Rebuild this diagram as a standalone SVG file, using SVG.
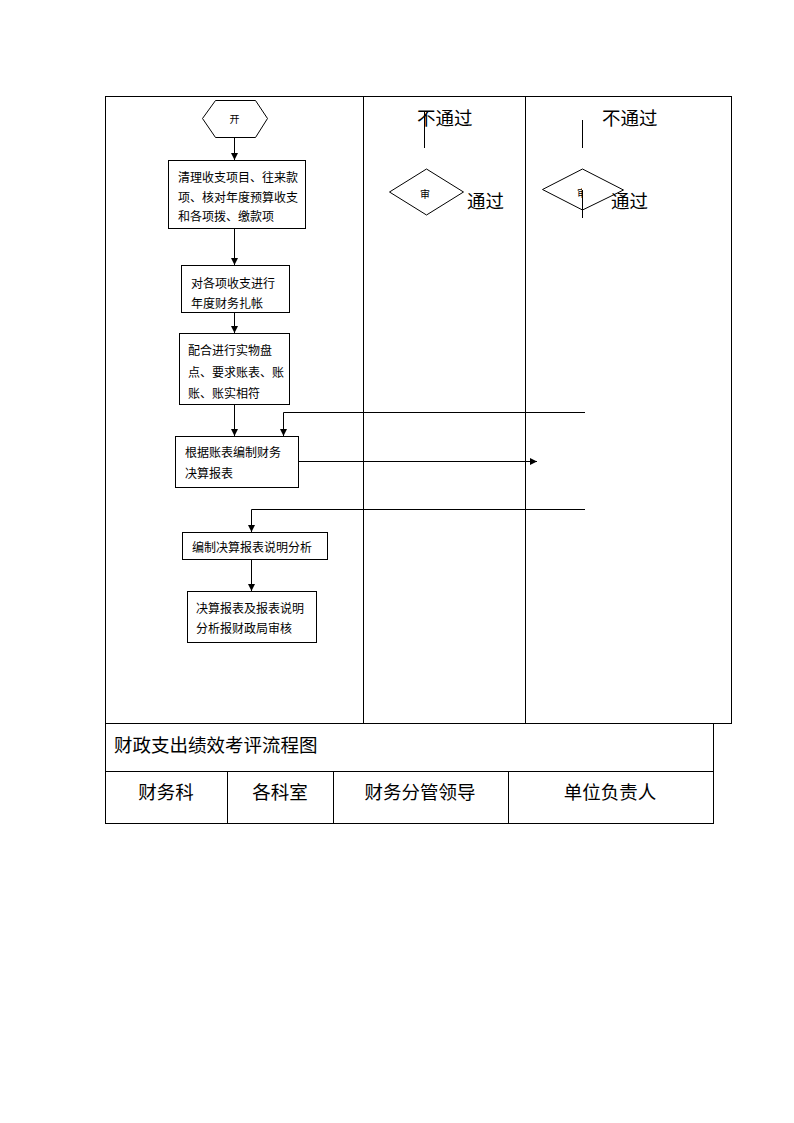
<svg xmlns="http://www.w3.org/2000/svg" width="794" height="1123" viewBox="0 0 794 1123">
<style>
.ln{stroke:#000;stroke-width:1;fill:none}
.bx{stroke:#000;stroke-width:1;fill:#fff}
.t{font-family:"Noto Sans CJK SC","Liberation Sans",sans-serif;font-size:12px;fill:#000}
.s{font-family:"Liberation Serif","Noto Sans CJK SC",serif;font-size:18.5px;fill:#000}
.st{font-family:"Noto Sans CJK SC",sans-serif;font-size:10px;fill:#000}
</style>
<defs>
<marker id="ah" markerWidth="8" markerHeight="8" refX="7" refY="4" orient="auto" markerUnits="userSpaceOnUse">
<path d="M0,0.5 L7,4 L0,7.5 Z" fill="#000"/>
</marker>
<clipPath id="clipL"><rect x="560" y="180" width="22" height="20"/></clipPath>
</defs>
<rect width="794" height="1123" fill="#fff"/>
<g id="table">
<rect x="105.5" y="96.5" width="626" height="627" class="ln"/>
<line x1="363.5" y1="96.5" x2="363.5" y2="723.5" class="ln"/>
<line x1="525.5" y1="96.5" x2="525.5" y2="723.5" class="ln"/>
<rect x="105.5" y="723.5" width="608" height="100" class="ln"/>
<line x1="105.5" y1="771.5" x2="713.5" y2="771.5" class="ln"/>
<line x1="227.5" y1="771.5" x2="227.5" y2="823.5" class="ln"/>
<line x1="333.5" y1="771.5" x2="333.5" y2="823.5" class="ln"/>
<line x1="508.5" y1="771.5" x2="508.5" y2="823.5" class="ln"/>
<text class="s" x="114" y="752">财政支出绩效考评流程图</text>
<text class="s" x="166" y="799" text-anchor="middle">财务科</text>
<text class="s" x="280" y="799" text-anchor="middle">各科室</text>
<text class="s" x="420" y="799" text-anchor="middle">财务分管领导</text>
<text class="s" x="610" y="799" text-anchor="middle">单位负责人</text>
</g>
<g id="connectors">
<line x1="234.5" y1="137" x2="234.5" y2="160" class="ln" marker-end="url(#ah)"/>
<line x1="234.5" y1="228" x2="234.5" y2="265" class="ln" marker-end="url(#ah)"/>
<line x1="234.5" y1="312" x2="234.5" y2="333" class="ln" marker-end="url(#ah)"/>
<line x1="234.5" y1="404" x2="234.5" y2="436" class="ln" marker-end="url(#ah)"/>
<polyline points="585,412.5 283.5,412.5 283.5,436" class="ln" marker-end="url(#ah)"/>
<line x1="298" y1="461.5" x2="537" y2="461.5" class="ln" marker-end="url(#ah)"/>
<polyline points="585,509.5 251.5,509.5 251.5,532" class="ln" marker-end="url(#ah)"/>
<line x1="251.5" y1="559" x2="251.5" y2="591" class="ln" marker-end="url(#ah)"/>
<line x1="424.5" y1="112" x2="424.5" y2="148" class="ln"/>
<line x1="582.5" y1="120" x2="582.5" y2="148" class="ln"/>
</g>
<g id="start">
<polygon points="202.5,118.5 215.5,100.5 255.5,100.5 267.5,118.5 255.5,137.5 215.5,137.5" class="bx"/>
<text class="st" x="234.5" y="122.5" text-anchor="middle">开</text>
</g>
<g id="box1">
<rect x="168.5" y="160.5" width="137" height="68" class="bx"/>
<text class="t" x="178" y="181.5">清理收支项目、往来款</text>
<text class="t" x="178" y="201.5">项、核对年度预算收支</text>
<text class="t" x="178" y="220.5">和各项拨、缴款项</text>
</g>
<g id="box2">
<rect x="181.5" y="265.5" width="108" height="47" class="bx"/>
<text class="t" x="191" y="287.5">对各项收支进行</text>
<text class="t" x="191" y="307.5">年度财务扎帐</text>
</g>
<g id="box3">
<rect x="179.5" y="333.5" width="110" height="71" class="bx"/>
<text class="t" x="188" y="354.5">配合进行实物盘</text>
<text class="t" x="188" y="376.5">点、要求账表、账</text>
<text class="t" x="188" y="397.5">账、账实相符</text>
</g>
<g id="box4">
<rect x="175.5" y="436.5" width="123" height="51" class="bx"/>
<text class="t" x="185" y="456.5">根据账表编制财务</text>
<text class="t" x="185" y="477.5">决算报表</text>
</g>
<g id="box5">
<rect x="182.5" y="532.5" width="145" height="27" class="bx"/>
<text class="t" x="192" y="551.5">编制决算报表说明分析</text>
</g>
<g id="box6">
<rect x="187.5" y="591.5" width="129" height="51" class="bx"/>
<text class="t" x="196" y="612.5">决算报表及报表说明</text>
<text class="t" x="196" y="632.5">分析报财政局审核</text>
</g>
<g id="review1">
<polygon points="389.5,192 426.5,169 463.5,192 426.5,215" class="bx"/>
<text class="st" x="425" y="198" text-anchor="middle">审</text>
<text class="s" x="417" y="125">不通过</text>
<text class="s" x="467" y="208">通过</text>
</g>
<g id="review2">
<polygon points="542.5,189.5 582.5,169 623.5,190 582.5,210" class="bx"/>
<text class="st" x="582" y="197" text-anchor="middle" clip-path="url(#clipL)">审</text>
<line x1="582.5" y1="190" x2="582.5" y2="218" class="ln"/>
<text class="s" x="602" y="125">不通过</text>
<text class="s" x="611" y="208">通过</text>
</g>
</svg>
